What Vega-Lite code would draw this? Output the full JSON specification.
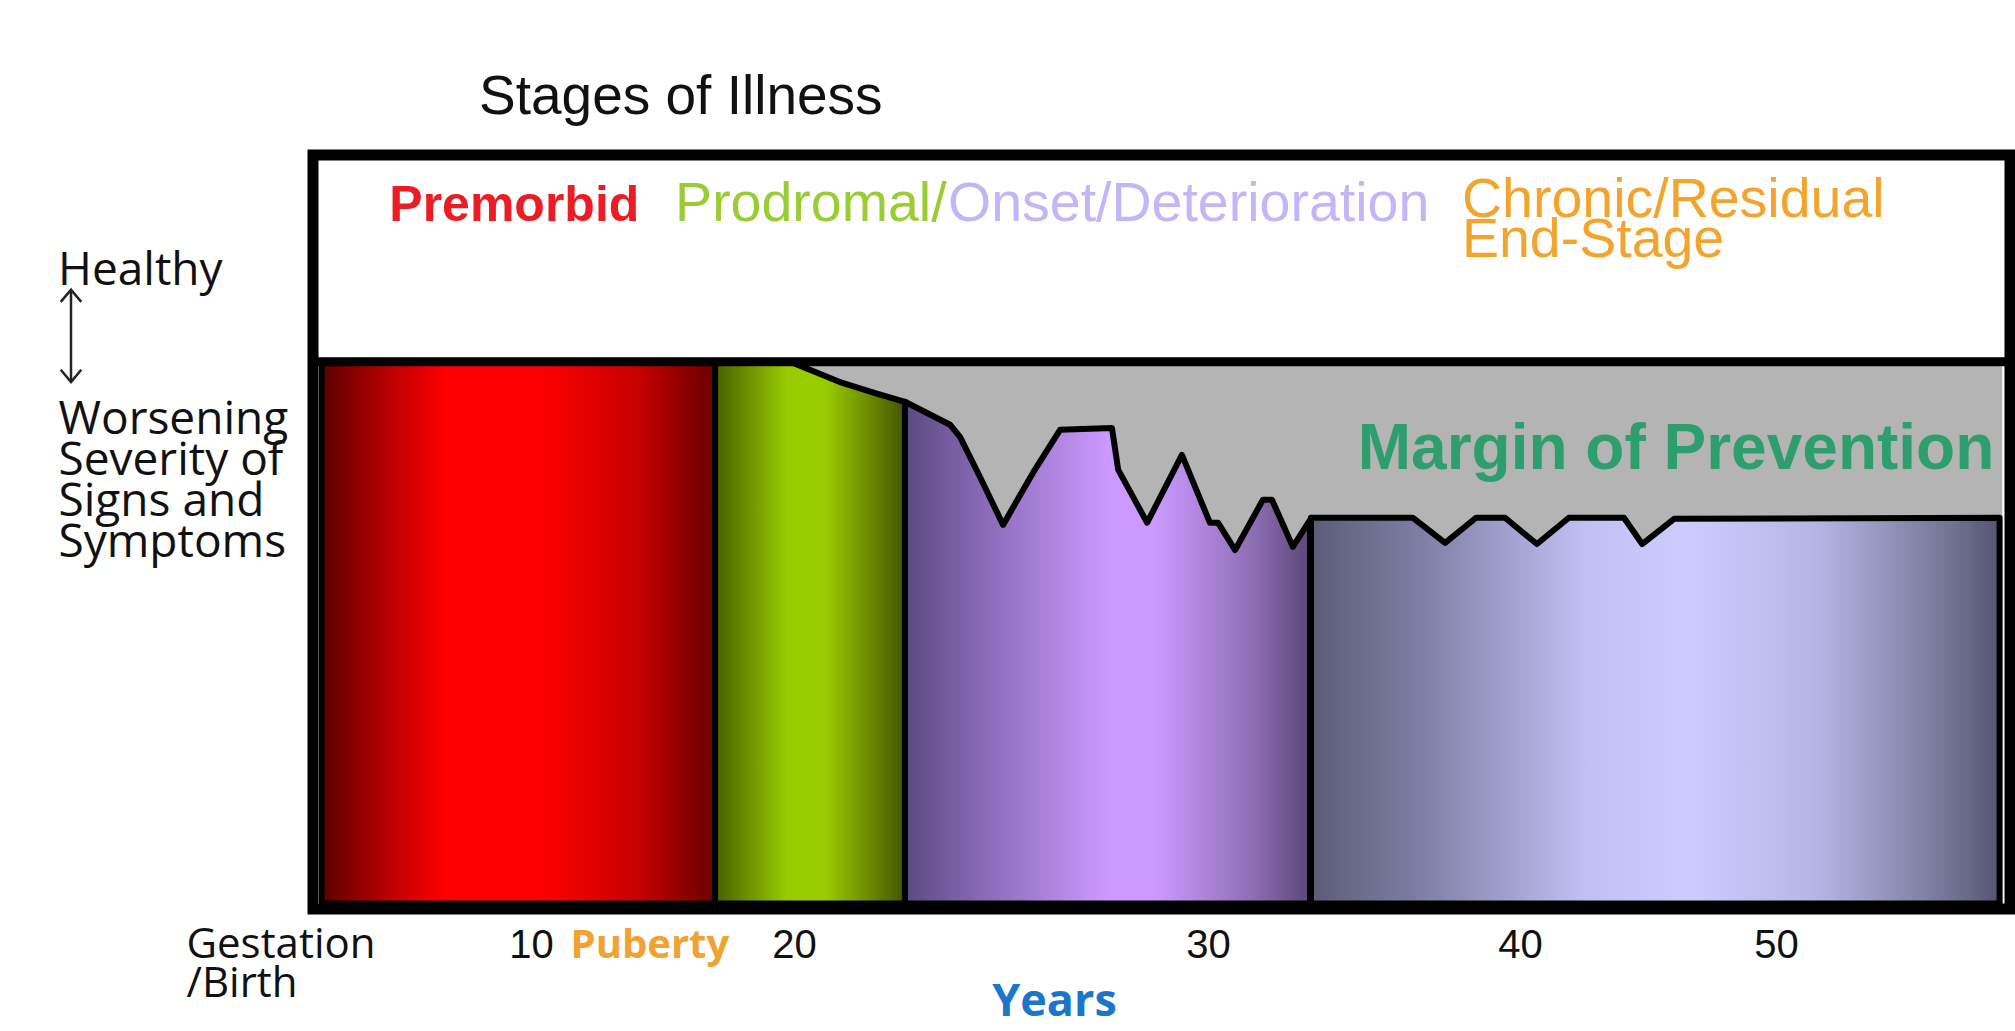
{
  "$schema": "https://vega.github.io/schema/vega-lite/v6.json",
  "width": 1697,
  "height": 754,
  "autosize": {"type": "none"},
  "padding": {"left": 313, "top": 155, "right": 5, "bottom": 122},
  "background": "white",
  "config": {"view": {"stroke": "black", "strokeWidth": 11, "fill": "white"}},
  "title": {"text": "Stages of Illness", "anchor": "start", "frame": "group", "dx": 166, "dy": 56, "offset": 42, "baseline": "alphabetic", "font": "Liberation Sans", "fontSize": 55, "fontWeight": "normal", "color": "#111111"},
  "datasets": {
    "profile": [
      {"stage": "Margin of Prevention", "age": 0.4, "level": 100},
      {"stage": "Margin of Prevention", "age": 58.7, "level": 100},
      {"stage": "Premorbid", "age": 0.4, "level": 100},
      {"stage": "Premorbid", "age": 17, "level": 100},
      {"stage": "Prodromal", "age": 17, "level": 100},
      {"stage": "Prodromal", "age": 19.85, "level": 100},
      {"stage": "Prodromal", "age": 21.11, "level": 96.3},
      {"stage": "Prodromal", "age": 21.96, "level": 94.3},
      {"stage": "Prodromal", "age": 22.68, "level": 92.7},
      {"stage": "Onset/Deterioration", "age": 22.68, "level": 92.7},
      {"stage": "Onset/Deterioration", "age": 23.77, "level": 88.5},
      {"stage": "Onset/Deterioration", "age": 24.01, "level": 86.3},
      {"stage": "Onset/Deterioration", "age": 24.49, "level": 79.0},
      {"stage": "Onset/Deterioration", "age": 25.05, "level": 70.2},
      {"stage": "Onset/Deterioration", "age": 25.77, "level": 79.7},
      {"stage": "Onset/Deterioration", "age": 26.43, "level": 87.6},
      {"stage": "Onset/Deterioration", "age": 27.68, "level": 87.9},
      {"stage": "Onset/Deterioration", "age": 27.83, "level": 80.3},
      {"stage": "Onset/Deterioration", "age": 28.53, "level": 70.6},
      {"stage": "Onset/Deterioration", "age": 29.37, "level": 83.0},
      {"stage": "Onset/Deterioration", "age": 30.06, "level": 70.6},
      {"stage": "Onset/Deterioration", "age": 30.32, "level": 70.6},
      {"stage": "Onset/Deterioration", "age": 30.87, "level": 65.6},
      {"stage": "Onset/Deterioration", "age": 31.76, "level": 74.8},
      {"stage": "Onset/Deterioration", "age": 32.05, "level": 74.8},
      {"stage": "Onset/Deterioration", "age": 32.72, "level": 66.2},
      {"stage": "Onset/Deterioration", "age": 33.27, "level": 71.1},
      {"stage": "Chronic/Residual End-Stage", "age": 33.3, "level": 71.5},
      {"stage": "Chronic/Residual End-Stage", "age": 36.57, "level": 71.5},
      {"stage": "Chronic/Residual End-Stage", "age": 37.6, "level": 66.9},
      {"stage": "Chronic/Residual End-Stage", "age": 38.59, "level": 71.5},
      {"stage": "Chronic/Residual End-Stage", "age": 39.52, "level": 71.5},
      {"stage": "Chronic/Residual End-Stage", "age": 40.66, "level": 66.7},
      {"stage": "Chronic/Residual End-Stage", "age": 41.91, "level": 71.5},
      {"stage": "Chronic/Residual End-Stage", "age": 44.06, "level": 71.5},
      {"stage": "Chronic/Residual End-Stage", "age": 44.77, "level": 66.7},
      {"stage": "Chronic/Residual End-Stage", "age": 46.02, "level": 71.3},
      {"stage": "Chronic/Residual End-Stage", "age": 58.6, "level": 71.5}
    ],
    "labels": [
      {"stage": "Premorbid", "text": "Premorbid", "age": 3.5, "level": 125.8},
      {"stage": "Prodromal", "text": "Prodromal/", "age": 15.48, "level": 125.8},
      {"stage": "Onset/Deterioration", "text": "Onset/Deterioration", "age": 23.72, "level": 125.8},
      {"stage": "Chronic/Residual End-Stage", "text": "Chronic/Residual\nEnd-Stage", "age": 38.14, "level": 126.5},
      {"stage": "Margin of Prevention", "text": "Margin of Prevention", "age": 34.8, "level": 80.4}
    ],
    "healthy": [
      {"text": "Healthy", "age": 0, "level": 114.1}
    ]
  },
  "layer": [
    {
      "data": {"name": "profile"},
      "transform": [{"filter": "datum.stage == 'Margin of Prevention'"}],
      "mark": {"type": "area", "fill": "#b4b4b4"},
      "encoding": {
        "x": {
          "field": "age", "type": "quantitative",
          "scale": {"type": "linear", "domain": [0, 10, 20, 30, 40, 50, 59], "range": [0, 218, 481, 895, 1207, 1463, 1697], "nice": false, "zero": false},
          "axis": {
            "values": [0, 10, 14.5, 20, 30, 40, 50],
            "labelExpr": "datum.value == 0 ? ['Gestation', '/Birth'] : (datum.value == 14.5 ? 'Puberty' : datum.label)",
            "ticks": false, "tickSize": 0, "domain": false, "grid": false,
            "labelFlush": false, "labelOverlap": false, "labelBound": false, "labelLimit": 500,
            "labelPadding": 48, "labelBaseline": "alphabetic", "labelLineHeight": 39,
            "labelAlign": {"condition": {"test": "datum.value == 0", "value": "left"}, "value": "center"},
            "labelOffset": {"condition": {"test": "datum.value == 0", "value": -127}, "value": 0},
            "labelFont": {"condition": {"test": "datum.value == 0 || datum.value == 14.5", "value": "Open Sans"}, "value": "Liberation Sans"},
            "labelFontSize": {"condition": {"test": "datum.value == 0", "value": 42}, "value": 40},
            "labelFontWeight": {"condition": {"test": "datum.value == 14.5", "value": "bold"}, "value": "normal"},
            "labelColor": {"condition": {"test": "datum.value == 14.5", "value": "#f0a232"}, "value": "#111111"},
            "title": "Years", "titleX": 741, "titleY": 106, "titleAlign": "center", "titleBaseline": "alphabetic",
            "titleFont": "Open Sans", "titleFontSize": 45, "titleFontWeight": "bold", "titleColor": "#1b75c8"
          }
        },
        "y": {
          "field": "level", "type": "quantitative",
          "scale": {"domain": [0, 137.8], "nice": false, "zero": false},
          "axis": {
            "title": ["Worsening", "Severity of", "Signs and", "Symptoms"],
            "labels": false, "ticks": false, "domain": false, "grid": false,
            "titleAngle": 0, "titleAlign": "left", "titleBaseline": "alphabetic",
            "titleX": -255, "titleY": 278, "titleLineHeight": 41,
            "titleFont": "Open Sans", "titleFontSize": 46, "titleFontWeight": "normal", "titleColor": "#111111"
          }
        },
        "y2": {"datum": 1}
      }
    },
    {
      "data": {"name": "profile"},
      "transform": [{"filter": "datum.stage == 'Premorbid'"}],
      "mark": {"type": "area", "stroke": "black", "strokeWidth": 6, "strokeJoin": "round",
        "fill": {"gradient": "linear", "x1": 0, "x2": 1, "y1": 0, "y2": 0, "stops": [
          {"offset": 0, "color": "#5a0000"}, {"offset": 0.18, "color": "#c00000"}, {"offset": 0.32, "color": "#ff0000"},
          {"offset": 0.55, "color": "#ff0000"}, {"offset": 0.8, "color": "#c80000"}, {"offset": 1, "color": "#6a0000"}]}},
      "encoding": {"x": {"field": "age", "type": "quantitative"}, "y": {"field": "level", "type": "quantitative"}, "y2": {"datum": 1}}
    },
    {
      "data": {"name": "profile"},
      "transform": [{"filter": "datum.stage == 'Prodromal'"}],
      "mark": {"type": "area", "stroke": "black", "strokeWidth": 6, "strokeJoin": "round",
        "fill": {"gradient": "linear", "x1": 0, "x2": 1, "y1": 0, "y2": 0, "stops": [
          {"offset": 0, "color": "#466000"}, {"offset": 0.38, "color": "#99cc00"}, {"offset": 0.58, "color": "#99cc00"},
          {"offset": 1, "color": "#445500"}]}},
      "encoding": {"x": {"field": "age", "type": "quantitative"}, "y": {"field": "level", "type": "quantitative"}, "y2": {"datum": 1}}
    },
    {
      "data": {"name": "profile"},
      "transform": [{"filter": "datum.stage == 'Onset/Deterioration'"}],
      "mark": {"type": "area", "stroke": "black", "strokeWidth": 6, "strokeJoin": "round",
        "fill": {"gradient": "linear", "x1": 0, "x2": 1, "y1": 0, "y2": 0, "stops": [
          {"offset": 0, "color": "#5a4a80"}, {"offset": 0.2, "color": "#8a6cb8"}, {"offset": 0.5, "color": "#cc99ff"},
          {"offset": 0.62, "color": "#cc99ff"}, {"offset": 0.86, "color": "#8e6eb4"}, {"offset": 1, "color": "#5a4676"}]}},
      "encoding": {"x": {"field": "age", "type": "quantitative"}, "y": {"field": "level", "type": "quantitative"}, "y2": {"datum": 1}}
    },
    {
      "data": {"name": "profile"},
      "transform": [{"filter": "datum.stage == 'Chronic/Residual End-Stage'"}],
      "mark": {"type": "area", "stroke": "black", "strokeWidth": 6, "strokeJoin": "round",
        "fill": {"gradient": "linear", "x1": 0, "x2": 1, "y1": 0, "y2": 0, "stops": [
          {"offset": 0, "color": "#5c5c78"}, {"offset": 0.15, "color": "#7c7ca2"}, {"offset": 0.4, "color": "#c0c0f4"},
          {"offset": 0.55, "color": "#ccccff"}, {"offset": 0.74, "color": "#b4b4e4"}, {"offset": 0.9, "color": "#7e7ea2"},
          {"offset": 1, "color": "#555570"}]}},
      "encoding": {"x": {"field": "age", "type": "quantitative"}, "y": {"field": "level", "type": "quantitative"}, "y2": {"datum": 1}}
    },
    {
      "data": {"name": "profile"},
      "transform": [{"filter": "datum.stage == 'Margin of Prevention'"}, {"aggregate": [{"op": "max", "field": "level", "as": "healthyLevel"}]}],
      "mark": {"type": "rule", "strokeWidth": 9, "color": "black"},
      "encoding": {"y": {"field": "healthyLevel", "type": "quantitative"}}
    },
    {
      "data": {"name": "labels"},
      "transform": [{"filter": "datum.stage == 'Premorbid'"}],
      "mark": {"type": "text", "align": "left", "baseline": "alphabetic", "font": "Liberation Sans", "fontSize": 50, "fontWeight": "bold"},
      "encoding": {
        "x": {"field": "age", "type": "quantitative"}, "y": {"field": "level", "type": "quantitative"},
        "text": {"field": "text"},
        "color": {"field": "stage", "type": "nominal", "legend": null,
          "scale": {"domain": ["Premorbid", "Prodromal", "Onset/Deterioration", "Chronic/Residual End-Stage", "Margin of Prevention"],
                    "range": ["#ec1c24", "#9acc33", "#c4b6f6", "#f2a42c", "#2f9e6e"]}}
      }
    },
    {
      "data": {"name": "labels"},
      "transform": [{"filter": "datum.stage == 'Prodromal' || datum.stage == 'Onset/Deterioration' || datum.stage == 'Chronic/Residual End-Stage'"}],
      "mark": {"type": "text", "align": "left", "baseline": "alphabetic", "font": "Liberation Sans", "fontSize": 55.5, "fontWeight": "normal", "lineBreak": "\n", "lineHeight": 40},
      "encoding": {
        "x": {"field": "age", "type": "quantitative"}, "y": {"field": "level", "type": "quantitative"},
        "text": {"field": "text"},
        "color": {"field": "stage", "type": "nominal", "legend": null}
      }
    },
    {
      "data": {"name": "labels"},
      "transform": [{"filter": "datum.stage == 'Margin of Prevention'"}],
      "mark": {"type": "text", "align": "left", "baseline": "alphabetic", "font": "Liberation Sans", "fontSize": 64, "fontWeight": "bold"},
      "encoding": {
        "x": {"field": "age", "type": "quantitative"}, "y": {"field": "level", "type": "quantitative"},
        "text": {"field": "text"},
        "color": {"field": "stage", "type": "nominal", "legend": null}
      }
    },
    {
      "data": {"name": "healthy"},
      "mark": {"type": "text", "align": "left", "baseline": "alphabetic", "font": "Open Sans", "fontSize": 46, "color": "#111111", "dx": -255},
      "encoding": {"x": {"field": "age", "type": "quantitative"}, "y": {"field": "level", "type": "quantitative"}, "text": {"field": "text"}}
    },
    {
      "data": {"name": "healthy"},
      "mark": {"type": "rule", "strokeWidth": 2.5, "color": "#222222", "xOffset": -242},
      "encoding": {"x": {"field": "age", "type": "quantitative"}, "y": {"datum": 113.0}, "y2": {"datum": 96.5}}
    },
    {
      "data": {"name": "healthy"},
      "mark": {"type": "point", "shape": "M -1 1.2 L 0 0 L 1 1.2", "size": 420, "filled": false, "stroke": "#222222", "strokeWidth": 2.5, "opacity": 1, "xOffset": -242},
      "encoding": {"x": {"field": "age", "type": "quantitative"}, "y": {"datum": 113.2}}
    },
    {
      "data": {"name": "healthy"},
      "mark": {"type": "point", "shape": "M -1 -1.2 L 0 0 L 1 -1.2", "size": 420, "filled": false, "stroke": "#222222", "strokeWidth": 2.5, "opacity": 1, "xOffset": -242},
      "encoding": {"x": {"field": "age", "type": "quantitative"}, "y": {"datum": 96.3}}
    }
  ]
}
